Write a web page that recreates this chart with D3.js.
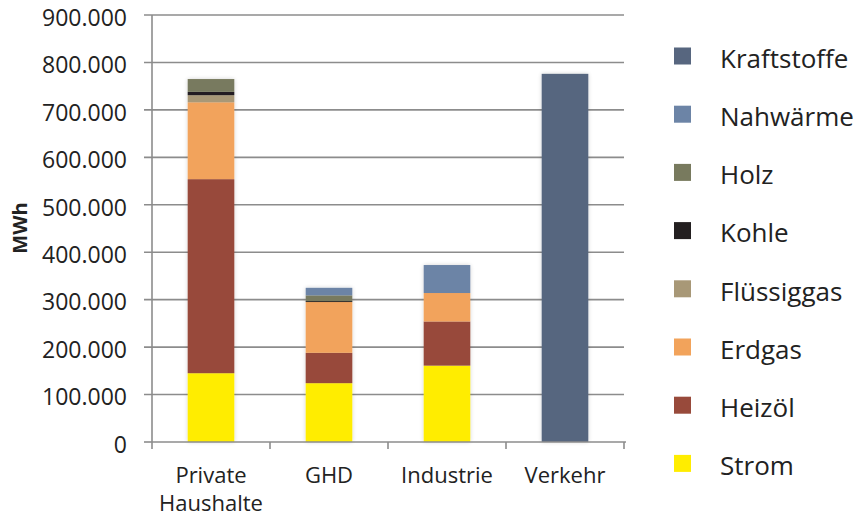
<!DOCTYPE html>
<html><head><meta charset="utf-8">
<script src="https://cdn.jsdelivr.net/npm/d3@7"></script>
<style>body{margin:0;background:#fff}svg{display:block}text{font-family:"Open Sans",sans-serif;fill:#222}</style>
</head><body><svg id="c" width="858" height="517"></svg>
<script>
const categories = ["Private Haushalte", "GHD", "Industrie", "Verkehr"];
const seriesNames = ["Strom", "Heizöl", "Erdgas", "Flüssiggas", "Kohle", "Holz", "Nahwärme", "Kraftstoffe"];
const strom       = [145000, 124000, 161000, 0];
const heizoel     = [409000,  64000,  93000, 0];
const erdgas      = [162000, 107000,  60000, 0];
const fluessiggas = [ 15000,      0,      0, 0];
const kohle       = [  7000,   2000,      0, 0];
const holz        = [ 27000,  12000,      0, 0];
const nahwaerme   = [     0,  16000,  59000, 0];
const kraftstoffe = [     0,      0,      0, 776000];
const colors = ["#ffed00", "#984a3b", "#f2a35b", "#a89877", "#231f20", "#787a5e", "#6c84a6", "#57667f"];
const yTicks = [0,100000,200000,300000,400000,500000,600000,700000,800000,900000];
const yTickLabels = ["0","100.000","200.000","300.000","400.000","500.000","600.000","700.000","800.000","900.000"];

const seriesValues = [strom, heizoel, erdgas, fluessiggas, kohle, holz, nahwaerme, kraftstoffe];
const rows = categories.map((c,i)=>{const o={cat:c}; seriesNames.forEach((s,j)=>o[s]=seriesValues[j][i]); return o;});
const stack = d3.stack().keys(seriesNames)(rows);

const svg = d3.select("#c");
const L=152, T=15, W=472, H=427;
const x = d3.scaleBand().domain(categories).range([L,L+W]).paddingInner(0.605).paddingOuter(0.3025);
const y = d3.scaleLinear().domain([0,900000]).range([T+H,T]);

const defs = svg.append("defs");
const f = defs.append("filter").attr("id","sh").attr("x","-20%").attr("y","-5%").attr("width","140%").attr("height","110%");
f.append("feGaussianBlur").attr("in","SourceAlpha").attr("stdDeviation",2).attr("result","b");
f.append("feComponentTransfer").attr("in","b").attr("result","o2").append("feFuncA").attr("type","linear").attr("slope",0.18);
const m = f.append("feMerge"); m.append("feMergeNode").attr("in","o2"); m.append("feMergeNode").attr("in","SourceGraphic");

// gridlines
svg.append("g").selectAll("line").data(yTicks.slice(1)).join("line")
  .attr("x1",L-8).attr("x2",L+W).attr("y1",d=>y(d)).attr("y2",d=>y(d))
  .attr("stroke","#8c8c8c").attr("stroke-width",1.6);
svg.append("line").attr("x1",L).attr("x2",L).attr("y1",T).attr("y2",T+H).attr("stroke","#8c8c8c").attr("stroke-width",1.6);
svg.append("line").attr("x1",L-8).attr("x2",L).attr("y1",y(0)).attr("y2",y(0)).attr("stroke","#8c8c8c").attr("stroke-width",1.6);
// y labels
svg.append("g").selectAll("text").data(yTicks).join("text")
  .attr("x",L-25).attr("y",d=>y(d)).attr("dy","0.47em").attr("text-anchor","end")
  .style("font-size","23px").text((d,i)=>yTickLabels[i]);
svg.append("text").attr("transform","translate(27,228) rotate(-90)").attr("text-anchor","middle")
  .style("font-size","20px").style("font-weight","bold").text("MWh");

// bars
const g = svg.append("g").attr("filter","url(#sh)");
categories.forEach((c,i)=>{
  stack.forEach((s,j)=>{
    const d = s[i];
    if (d[1]-d[0] <= 0) return;
    g.append("rect").attr("x",x(c)).attr("width",x.bandwidth())
      .attr("y",y(d[1])).attr("height",y(d[0])-y(d[1])).attr("fill",colors[j]);
  });
});

// x axis
svg.append("line").attr("x1",L).attr("x2",L+W+2).attr("y1",y(0)).attr("y2",y(0)).attr("stroke","#8c8c8c").attr("stroke-width",1.6);
const step = x.step();
svg.append("g").selectAll("line").data(d3.range(categories.length+1)).join("line")
  .attr("x1",d=>L+d*step).attr("x2",d=>L+d*step).attr("y1",y(0)).attr("y2",y(0)+7)
  .attr("stroke","#8c8c8c").attr("stroke-width",1.6);
const xl = svg.append("g").selectAll("text").data(categories).join("text")
  .attr("x",d=>x(d)+x.bandwidth()/2).attr("y",483).attr("text-anchor","middle").style("font-size","22px");
xl.each(function(d){
  const parts = d.split(" ");
  const t = d3.select(this);
  parts.forEach((p,k)=>t.append("tspan").attr("x",x(d)+x.bandwidth()/2).attr("dy",k?28:0).text(p));
});

// legend
const legendItems = seriesNames.map((s,j)=>({s,c:colors[j]})).reverse();
const lg = svg.append("g").selectAll("g").data(legendItems).join("g")
  .attr("transform",(d,i)=>`translate(674,${56+i*58.2})`);
lg.append("rect").attr("x",0).attr("y",-8.5).attr("width",17).attr("height",17).attr("fill",d=>d.c);
lg.append("text").attr("x",46).attr("y",0).attr("dy","0.45em").style("font-size","26px").text(d=>d.s);
</script></body></html>
